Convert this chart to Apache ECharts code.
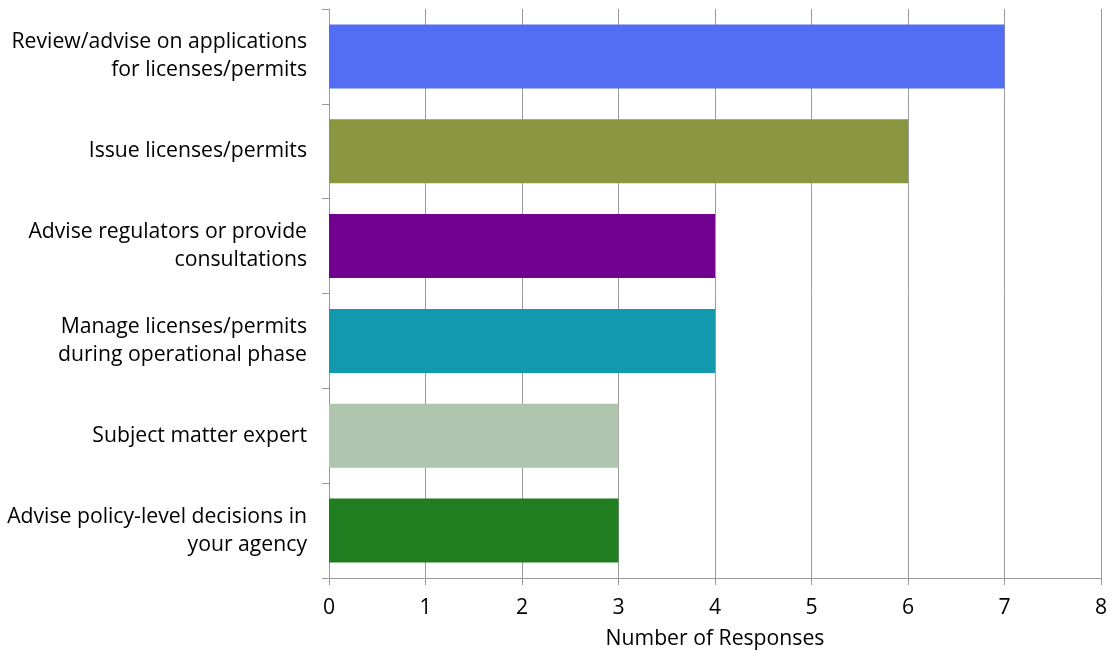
<!DOCTYPE html>
<html>
<head>
<meta charset="utf-8">
<script src="https://cdn.jsdelivr.net/npm/echarts@6/dist/echarts.min.js"></script>
<style>
  html, body { margin: 0; padding: 0; background: #fff; }
  #chart { width: 1114px; height: 654px; }
</style>
</head>
<body>
<div id="chart"></div>
<script>
// Roles reported by respondents, with the number of responses for each
const categories = [
  'Review/advise on applications\nfor licenses/permits',
  'Issue licenses/permits',
  'Advise regulators or provide\nconsultations',
  'Manage licenses/permits\nduring operational phase',
  'Subject matter expert',
  'Advise policy-level decisions in\nyour agency'
];
const responses = [7, 6, 4, 4, 3, 3];
const barColors = ['#546DF5', '#8B9640', '#720090', '#1399AE', '#AFC4AC', '#207D20'];
const xTicks = [0, 1, 2, 3, 4, 5, 6, 7, 8];

const font = '"Open Sans", sans-serif';
const fontSize = 21.2;
const gridGray = '#9a9a9a';

const chart = echarts.init(document.getElementById('chart'));
chart.setOption({
  animation: false,
  grid: { left: 329, right: 13, top: 9, bottom: 76, containLabel: false },
  xAxis: {
    type: 'value',
    min: xTicks[0],
    max: xTicks[xTicks.length - 1],
    interval: 1,
    name: 'Number of Responses',
    nameLocation: 'middle',
    nameGap: 50,
    nameTextStyle: { fontFamily: font, fontSize: fontSize, color: '#000' },
    axisLine: { show: true, lineStyle: { color: gridGray, width: 1 } },
    axisTick: { show: true, length: 7, lineStyle: { color: gridGray } },
    axisLabel: { fontFamily: font, fontSize: fontSize, color: '#000', margin: 19 },
    splitLine: { show: true, lineStyle: { color: gridGray, width: 1 } }
  },
  yAxis: {
    type: 'category',
    inverse: true,
    data: categories,
    axisLine: { show: true, lineStyle: { color: gridGray, width: 1 } },
    axisTick: { show: true, length: 7, alignWithLabel: false, lineStyle: { color: gridGray } },
    axisLabel: {
      fontFamily: font, fontSize: fontSize, color: '#000', margin: 22,
      lineHeight: 28, align: 'right'
    },
    splitLine: { show: false }
  },
  series: [{
    type: 'bar',
    data: responses.map((v, i) => ({ value: v, itemStyle: { color: barColors[i] } })),
    barCategoryGap: '32.5%'
  }]
});
</script>
</body>
</html>
